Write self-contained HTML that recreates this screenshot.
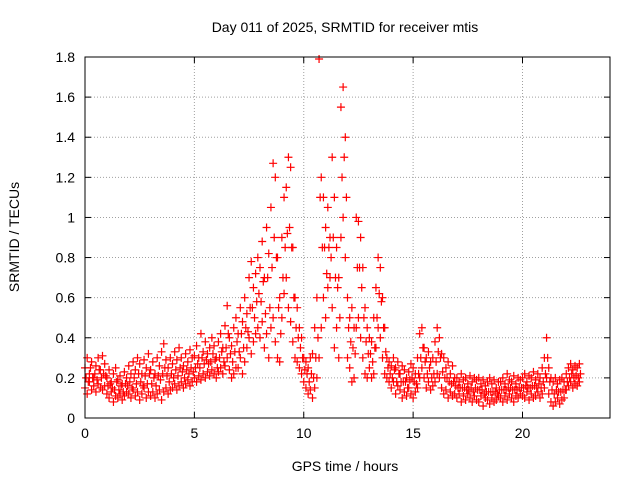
<!DOCTYPE html>
<html><head><meta charset="utf-8"><style>
body{margin:0;background:#fff;}
svg text{font-family:"Liberation Sans",sans-serif;font-size:14px;fill:#000;}
</style></head><body>
<svg id="chart" width="640" height="480">
<text x="345" y="32" text-anchor="middle">Day 011 of 2025, SRMTID for receiver mtis</text>
<text x="345" y="471" text-anchor="middle">GPS time / hours</text>
<text transform="translate(19,237) rotate(-90)" text-anchor="middle">SRMTID / TECUs</text>
<g id="grid"></g><g id="ticks"></g><g id="marks"></g>
<rect x="85" y="57" width="525" height="361" fill="none" stroke="#000"/>
</svg>
<script>
const xTicks=[0,5,10,15,20];
const yTicks=[0,0.2,0.4,0.6,0.8,1,1.2,1.4,1.6,1.8];
const yTickLabels=["0","0.2","0.4","0.6","0.8","1","1.2","1.4","1.6","1.8"];
const timeStep=0.1;
const upperValues=[
.25,.3,.22,.28,.2,.26,.3,.24,.31,.27,
.2,.24,.18,.22,.25,.19,.21,.17,.23,.2,
.26,.22,.28,.24,.3,.27,.22,.29,.25,.32,
.24,.28,.22,.3,.26,.33,.37,.29,.25,.3,
.27,.33,.29,.35,.3,.26,.32,.28,.34,.3,
.31,.36,.3,.42,.33,.38,.32,.35,.4,.36,
.3,.38,.42,.35,.46,.56,.4,.36,.45,.5,
.42,.55,.48,.6,.52,.7,.78,.65,.72,.8,
.75,.88,.7,.95,.82,1.05,1.27,1.2,.8,.6,
.9,1.1,1.15,1.3,1.25,.85,.6,.55,.45,.4,
.3,.28,.25,.3,.32,.45,.6,1.79,1.2,1.1,
.95,1.05,.9,1.3,1.1,.85,.7,1.55,1.65,1.4,
.6,.5,.55,.45,1.0,.98,.9,.75,.55,.45,
.4,.38,.5,.65,.8,.75,.6,.45,.3,.28,
.26,.3,.25,.28,.22,.26,.24,.2,.23,.27,
.25,.22,.3,.42,.45,.35,.3,.33,.28,.3,
.38,.45,.4,.32,.3,.25,.28,.22,.26,.2,
.2,.18,.22,.19,.2,.17,.21,.18,.2,.19,
.2,.17,.19,.16,.18,.2,.17,.19,.15,.18,
.18,.2,.17,.22,.19,.18,.21,.17,.2,.19,
.2,.22,.18,.21,.2,.23,.19,.22,.2,.25,
.3,.4,.25,.2,.18,.2,.17,.19,.2,.18,
.22,.25,.27,.24,.26,.25,.27];
const midValues=[
.2,.18,.25,.2,.22,.19,.24,.2,.22,.21,
.16,.17,.15,.14,.18,.14,.16,.13,.17,.16,
.18,.15,.2,.17,.22,.18,.16,.21,.17,.22,
.17,.2,.16,.21,.19,.22,.25,.21,.18,.22,
.2,.24,.21,.25,.23,.2,.24,.22,.25,.23,
.25,.27,.25,.3,.27,.29,.27,.28,.32,.29,
.25,.3,.33,.28,.35,.42,.32,.28,.33,.38,
.33,.42,.35,.45,.43,.55,.55,.5,.58,.62,
.58,.68,.52,.7,.55,.75,.9,.8,.55,.42,
.7,.85,.92,.95,.85,.6,.45,.4,.35,.3,
.24,.22,.18,.22,.2,.3,.4,1.1,.85,.85,
.72,.85,.8,.9,.7,.65,.5,1.2,1.3,1.1,
.45,.38,.35,.32,.75,.75,.65,.5,.38,.32,
.32,.28,.35,.5,.62,.58,.45,.33,.25,.22,
.2,.24,.18,.22,.18,.18,.18,.15,.19,.2,
.18,.17,.22,.3,.35,.28,.22,.25,.2,.22,
.28,.33,.3,.23,.2,.2,.18,.17,.18,.16,
.15,.15,.15,.15,.14,.14,.15,.13,.15,.14,
.14,.14,.12,.13,.13,.13,.13,.13,.12,.14,
.14,.14,.14,.15,.15,.14,.14,.14,.15,.15,
.15,.16,.15,.15,.16,.16,.15,.17,.15,.18,
.22,.3,.18,.14,.12,.14,.13,.13,.14,.14,
.18,.2,.22,.2,.21,.2,.22];
const lowerValues=[
.15,.12,.18,.14,.16,.13,.17,.15,.14,.16,
.12,.1,.13,.08,.11,.1,.12,.09,.11,.13,
.12,.1,.14,.11,.13,.09,.12,.15,.1,.13,
.11,.13,.1,.12,.14,.09,.13,.15,.12,.14,
.15,.17,.14,.16,.18,.15,.17,.19,.16,.18,
.2,.18,.21,.19,.22,.2,.23,.21,.24,.22,
.2,.23,.25,.22,.26,.3,.24,.2,.22,.25,
.25,.3,.22,.28,.35,.4,.32,.38,.42,.45,
.4,.48,.35,.42,.3,.45,.5,.38,.3,.28,
.5,.62,.7,.55,.48,.38,.3,.28,.25,.22,
.18,.15,.12,.14,.1,.15,.2,.3,.45,.6,
.5,.65,.7,.55,.35,.45,.3,.9,1.0,.8,
.3,.25,.18,.2,.45,.5,.4,.3,.22,.2,
.25,.2,.22,.35,.45,.4,.3,.22,.2,.18,
.15,.18,.12,.16,.14,.1,.13,.11,.15,.12,
.1,.13,.15,.2,.25,.2,.15,.18,.14,.16,
.18,.22,.2,.15,.12,.14,.1,.13,.11,.12,
.1,.12,.08,.11,.09,.12,.1,.08,.11,.09,
.08,.11,.06,.1,.09,.07,.1,.08,.09,.11,
.1,.08,.11,.09,.12,.1,.08,.11,.1,.12,
.11,.1,.13,.09,.12,.1,.11,.13,.1,.12,
.15,.2,.12,.08,.06,.08,.1,.07,.09,.1,
.14,.16,.18,.15,.17,.16,.18];
const NS="http://www.w3.org/2000/svg";
const X0=85,X1=610,Y0=418,Y1=57,XMAX=24,YMAX=1.8;
function xs(v){return X0+(X1-X0)*v/XMAX;}
function ys(v){return Y0-(Y0-Y1)*v/YMAX;}
function mk(tag,attrs,parent){const e=document.createElementNS(NS,tag);for(const k in attrs)e.setAttribute(k,attrs[k]);parent.appendChild(e);return e;}
const grid=document.getElementById('grid'),ticks=document.getElementById('ticks'),marks=document.getElementById('marks');
xTicks.forEach(t=>{const x=xs(t);
 if(t>0){const g=mk('line',{x1:x,x2:x,y1:Y1,y2:Y0,stroke:'#a0a0a0','stroke-dasharray':'1,2'},grid);
 
 }
 mk('line',{x1:x,x2:x,y1:Y0,y2:Y0-6,stroke:'#000'},ticks);
 mk('line',{x1:x,x2:x,y1:Y1,y2:Y1+6,stroke:'#000'},ticks);
 const l=mk('text',{x:x,y:Y0+20,'text-anchor':'middle'},ticks);l.textContent=t;
 
 });
yTicks.forEach((t,i)=>{const y=ys(t);
 if(i>0&&i<yTicks.length-1){const g=mk('line',{x1:X0,x2:X1,y1:y,y2:y,stroke:'#a0a0a0','stroke-dasharray':'1,2'},grid);
 
 }
 mk('line',{x1:X0,x2:X0+6,y1:y,y2:y,stroke:'#000'},ticks);
 mk('line',{x1:X1,x2:X1-6,y1:y,y2:y,stroke:'#000'},ticks);
 const l=mk('text',{x:X0-10,y:y+5,'text-anchor':'end'},ticks);l.textContent=yTickLabels[i];
 
 });
function plus(v,t,col,name){const x=xs(t),y=ys(v);
 const p=mk('path',{d:`M${x-4},${y}H${x+4}M${x},${y-4}V${y+4}`,stroke:col,'stroke-width':1.2,fill:'none'},marks);
 
 }
midValues.forEach((v,i)=>{plus(v,(i+0.5)*timeStep,'#ff0000','point-mid');});
upperValues.forEach((v,i)=>{plus(v,i*timeStep,'#ff0000','point-upper');});
lowerValues.forEach((v,i)=>{plus(v,i*timeStep,'#ff0000','point-lower');});
</script>
</body></html>
